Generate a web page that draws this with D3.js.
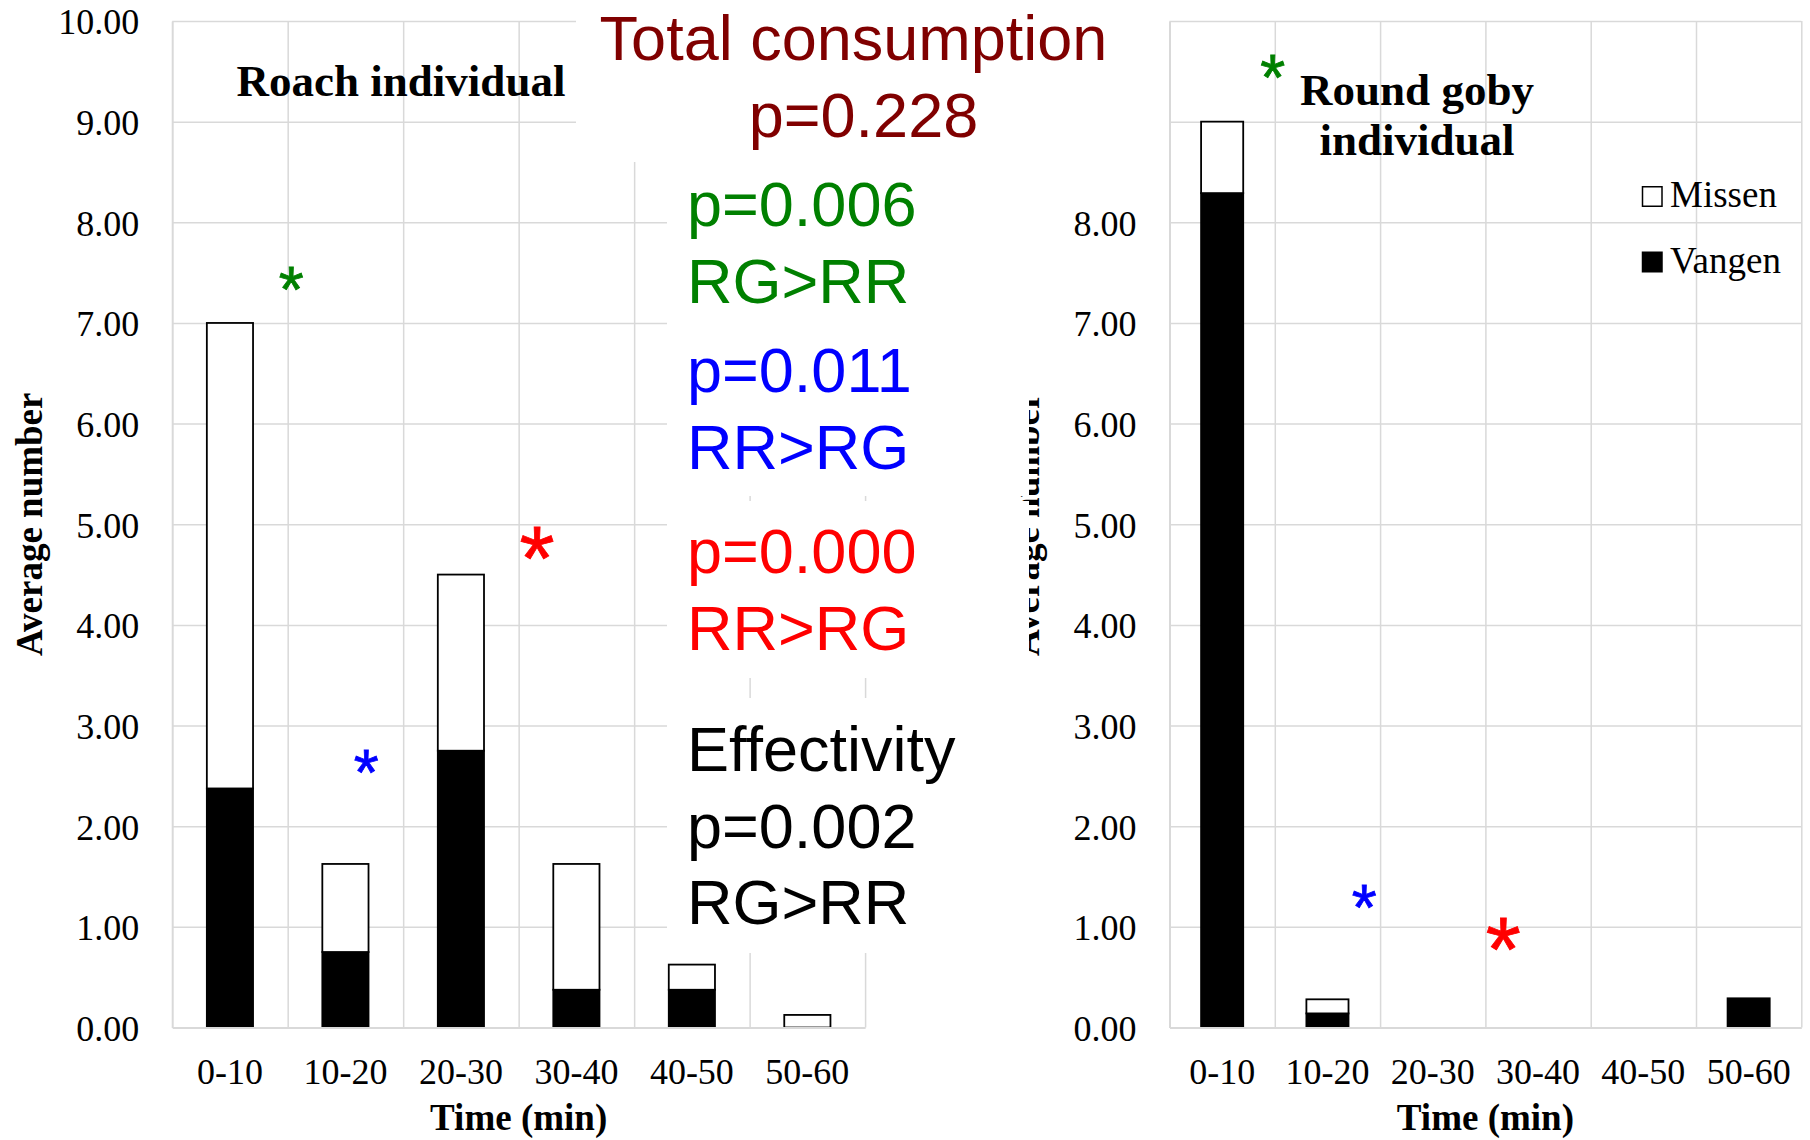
<!DOCTYPE html>
<html>
<head>
<meta charset="utf-8">
<script src="https://cdn.jsdelivr.net/npm/d3@7"></script>
<style>
  body { margin: 0; background: #fff; }
  svg { display: block; }
</style>
</head>
<body>
<div id="chart"></div>
<script>
// data
const categories = ['0-10', '10-20', '20-30', '30-40', '40-50', '50-60'];
const roachVangen = [2.375, 0.75, 2.75, 0.375, 0.375, 0];
const roachMissen = [4.625, 0.875, 1.75, 1.25, 0.25, 0.125];
const gobyVangen = [8.29, 0.14, 0, 0, 0, 0.29];
const gobyMissen = [0.71, 0.14, 0, 0, 0, 0];
const yTicks = d3.range(0, 11);
const gobyLabelTicks = d3.range(0, 9); // 9.00 and 10.00 sit under the text box
const seriesKeys = ['Vangen', 'Missen'];
const legendKeys = ['Missen', 'Vangen'];

// significance stars, in category units and values
const roachStarX = [1.03, 1.68, 3.16];
const roachStarY = [7.41, 2.61, 4.77];
const gobyStarX = [0.98, 1.85, 3.17];
const gobyStarY = [9.51, 1.27, 0.88];

// text boxes
const totalLines = ['Total consumption', 'p=0.228'];
const greenLines = ['p=0.006', 'RG>RR'];
const blueLines = ['p=0.011', 'RR>RG'];
const redLines = ['p=0.000', 'RR>RG'];
const effLines = ['Effectivity', 'p=0.002', 'RG>RR'];

const serif = '"Liberation Serif", "Times New Roman", serif';
const sans = '"Liberation Sans", Arial, sans-serif';
const testColors = ['#008000', '#0000ff', '#ff0000'];
const starSizes = [64, 64, 90];
const gridColor = '#d9d9d9';

const W = 1810, H = 1140;
const plotTop = 21, plotBottom = 1027.5;

const svg = d3.select('#chart').append('svg').attr('width', W).attr('height', H);

const y = d3.scaleLinear().domain([0, 10]).range([plotBottom, plotTop]);

const drawChart = (cfg) => {
  const g = svg.append('g');
  const x = d3.scaleBand().domain(categories).range([cfg.x0, cfg.x1]).paddingInner(0.6).paddingOuter(0.3);
  const edge = d3.scaleLinear().domain([0, categories.length]).range([cfg.x0, cfg.x1]);

  //grid
  g.append('g').attr('transform', `translate(${cfg.x0},0)`)
    .call(d3.axisLeft(y).tickValues(yTicks.slice(1)).tickSize(-(cfg.x1 - cfg.x0)).tickFormat(''))
    .call(a => a.select('.domain').remove())
    .call(a => a.selectAll('line').attr('stroke', gridColor).attr('stroke-width', 1.5));
  g.append('g').attr('transform', `translate(0,${plotBottom})`)
    .call(d3.axisBottom(edge).tickValues(d3.range(1, categories.length + 1)).tickSize(-(plotBottom - plotTop)).tickFormat(''))
    .call(a => a.select('.domain').remove())
    .call(a => a.selectAll('line').attr('stroke', gridColor).attr('stroke-width', 1.5));

  //bars
  const rows = categories.map((c, i) => ({ cat: c, Vangen: cfg.vangen[i], Missen: cfg.missen[i] }));
  const stacked = d3.stack().keys(seriesKeys)(rows);
  g.append('g').selectAll('g').data(stacked).join('g')
    .attr('fill', d => d.key === 'Vangen' ? '#000' : '#fff')
    .selectAll('rect').data(d => d.filter(s => s[1] - s[0] > 0)).join('rect')
    .attr('x', d => x(d.data.cat))
    .attr('width', x.bandwidth())
    .attr('y', d => y(d[1]))
    .attr('height', d => y(d[0]) - y(d[1]))
    .attr('stroke', '#000')
    .attr('stroke-width', 1.8);

  //axes
  g.append('g').attr('transform', `translate(${cfg.x0},0)`)
    .call(d3.axisLeft(y).tickValues(cfg.labelTicks).tickFormat(d3.format('.2f')).tickSize(0).tickPadding(33))
    .call(a => a.select('.domain').attr('stroke', gridColor).attr('stroke-width', 2))
    .attr('font-family', serif).attr('font-size', 36)
    .call(a => a.selectAll('text').attr('fill', '#000').attr('dy', '0.36em'));
  g.append('g').attr('transform', `translate(0,${plotBottom})`)
    .call(d3.axisBottom(x).tickSize(0).tickSizeOuter(0).tickPadding(31))
    .call(a => a.select('.domain').attr('stroke', gridColor).attr('stroke-width', 2))
    .attr('font-family', serif).attr('font-size', 36)
    .call(a => a.selectAll('text').attr('fill', '#000'));

  //axis titles
  g.append('text')
    .attr('transform', `translate(${cfg.x0 - 130.5},${(plotTop + plotBottom) / 2}) rotate(-90)`)
    .attr('text-anchor', 'middle').attr('font-family', serif).attr('font-size', 37).attr('font-weight', 'bold')
    .text('Average number');
  g.append('text')
    .attr('x', (cfg.x0 + cfg.x1) / 2).attr('y', 1130)
    .attr('text-anchor', 'middle').attr('font-family', serif).attr('font-size', 37).attr('font-weight', 'bold')
    .text('Time (min)');

  //chart title
  g.append('text')
    .attr('text-anchor', 'middle').attr('font-family', serif).attr('font-size', 45).attr('font-weight', 'bold')
    .selectAll('tspan').data(cfg.title).join('tspan')
    .attr('x', cfg.titleX).attr('y', (d, i) => cfg.titleY + i * 50)
    .text(d => d);

  //stars
  g.append('g').selectAll('text').data(cfg.starX).join('text')
    .attr('x', d => edge(d))
    .attr('y', (d, i) => y(cfg.starY[i]) + 0.47 * starSizes[i])
    .attr('text-anchor', 'middle').attr('font-family', sans)
    .attr('font-size', (d, i) => starSizes[i])
    .attr('fill', (d, i) => testColors[i])
    .attr('stroke', (d, i) => testColors[i]).attr('stroke-width', 0.8)
    .text('*');

  return { g, x, edge };
};

drawChart({ x0: 172.2, x1: 865.1, vangen: roachVangen, missen: roachMissen, labelTicks: yTicks,
  title: ['Roach individual'], titleX: 401, titleY: 96, starX: roachStarX, starY: roachStarY });
const right = drawChart({ x0: 1169.5, x1: 1801.3, vangen: gobyVangen, missen: gobyMissen, labelTicks: gobyLabelTicks,
  title: ['Round goby', 'individual'], titleX: 1417, titleY: 105, starX: gobyStarX, starY: gobyStarY });

//legend
const legend = right.g.append('g').attr('transform', 'translate(1642.5,196.5)');
const li = legend.selectAll('g').data(legendKeys).join('g')
  .attr('transform', (d, i) => `translate(0,${i * 65.5})`);
li.append('rect').attr('x', 0).attr('y', -9.75).attr('width', 19.5).attr('height', 19.5)
  .attr('fill', d => d === 'Vangen' ? '#000' : '#fff').attr('stroke', '#000').attr('stroke-width', 1.5);
li.append('text').attr('x', 27.5).attr('y', 10.5)
  .attr('font-family', serif).attr('font-size', 37).text(d => d);

//text boxes on top
const boxes = [
  { x: 576, y: 0, w: 579, h: 162, lines: totalLines, color: '#800000', tx: [853.5, 863.5], ty: 60, anchor: 'middle' },
  { x: 667, y: 162, w: 362, h: 334, lines: greenLines, color: testColors[0], tx: [687], ty: 226, anchor: 'start' },
  { x: 667, y: 162, w: 362, h: 334, lines: blueLines, color: testColors[1], tx: [687], ty: 392, anchor: 'start' },
  { x: 667, y: 501, w: 362, h: 177, lines: redLines, color: testColors[2], tx: [687], ty: 573, anchor: 'start' },
  { x: 667, y: 698, w: 362, h: 255, lines: effLines, color: '#000', tx: [687], ty: 771, anchor: 'start' }
];
const over = svg.append('g');
over.selectAll('rect').data(boxes).join('rect')
  .attr('x', d => d.x).attr('y', d => d.y).attr('width', d => d.w).attr('height', d => d.h)
  .attr('fill', '#fff');
over.selectAll('text').data(boxes).join('text')
  .attr('font-family', sans).attr('font-size', 63)
  .attr('fill', d => d.color).attr('text-anchor', d => d.anchor)
  .selectAll('tspan').data(d => d.lines.map((l, i) => ({ l, i, b: d }))).join('tspan')
  .attr('x', d => d.b.tx[Math.min(d.i, d.b.tx.length - 1)])
  .attr('y', d => d.b.ty + d.i * 76.5)
  .text(d => d.l);
</script>
</body>
</html>
